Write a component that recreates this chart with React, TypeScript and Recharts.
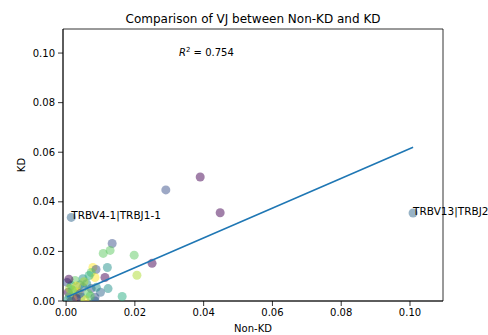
import {
  ScatterChart,
  Scatter,
  XAxis,
  YAxis,
  ReferenceArea,
  ReferenceDot,
} from 'recharts'

const FONT = '"DejaVu Sans", sans-serif'

// viridis-ish colours, drawn at half opacity like the original
const PURPLE = '#440154'
const INDIGO = '#3b528b'
const BLUE = '#31688e'
const TEAL = '#21918c'
const SEA = '#27ad81'
const GREEN = '#5ec962'
const LIME = '#addc30'
const YELLOW = '#fde725'

const NON_KD = [
  0.1009, 0.0015, 0.029, 0.039, 0.0448, 0.025, 0.0134, 0.0108, 0.0128, 0.0198,
  0.0206, 0.0163, 0.012, 0.0078, 0.0087, 0.0073, 0.0084, 0.0113, 0.0049, 0.0067,
  0.0026, 0.0003, 0.0015, 0.0049, 0.0073, 0.0122, 0.0006, 0.0035, 0.0064, 0.0084,
  0.0044, 0.002, 0.0084, 0.001, 0.0025, 0.004, 0.003, 0.0055, 0.0005, 0.001,
  0.003, 0.006, 0.004, 0.007, 0.0015, 0.01, 0.0088, 0.0052, 0.0018, 0.0008,
]
const KD = [
  0.0355, 0.0337, 0.0448, 0.05, 0.0356, 0.0152, 0.0232, 0.0192, 0.0204, 0.0185,
  0.0104, 0.0018, 0.0135, 0.0135, 0.0127, 0.0115, 0.0095, 0.0095, 0.009, 0.0103,
  0.0083, 0.0075, 0.0063, 0.0055, 0.005, 0.005, 0.0035, 0.0035, 0.003, 0.0015,
  0.0015, 0.001, 0.0, 0.002, 0.004, 0.0065, 0.001, 0.0005, 0.0005, 0.005,
  0.006, 0.007, 0.003, 0.002, 0.0, 0.0035, 0.0055, 0.0078, 0.0045, 0.0088,
]
const COLORS = [
  BLUE, BLUE, INDIGO, PURPLE, PURPLE, PURPLE, INDIGO, GREEN, GREEN, GREEN,
  LIME, SEA, TEAL, YELLOW, INDIGO, GREEN, YELLOW, PURPLE, TEAL, SEA,
  GREEN, INDIGO, SEA, BLUE, INDIGO, TEAL, PURPLE, YELLOW, GREEN, INDIGO,
  SEA, YELLOW, BLUE, GREEN, LIME, TEAL, PURPLE, YELLOW, TEAL, LIME,
  YELLOW, TEAL, INDIGO, GREEN, INDIGO, BLUE, TEAL, LIME, GREEN, PURPLE,
]

// linear fit drawn between the min and max Non-KD values
const FIT_X = [0.0003, 0.1009]
const FIT_Y = [0.0016, 0.062]

const X_TICKS = [0, 0.02, 0.04, 0.06, 0.08, 0.1]
const Y_TICKS = [0, 0.02, 0.04, 0.06, 0.08, 0.1]
const X_DOMAIN = [-0.0009, 0.1096]
const Y_DOMAIN = [0, 0.1097]

const ANNOTATIONS = [
  { x: 0.0015, y: 0.0337, text: 'TRBV4-1|TRBJ1-1' },
  { x: 0.1009, y: 0.0355, text: 'TRBV13|TRBJ2-1' },
]

const points = NON_KD.map((x, i) => ({ x, y: KD[i], color: COLORS[i] }))
const fit = FIT_X.map((x, i) => ({ x, y: FIT_Y[i] }))

function Dot(props: any) {
  const { cx, cy, payload } = props
  return <circle cx={cx} cy={cy} r={4.5} fill={payload.color} fillOpacity={0.5} />
}

export default function App() {
  const tick = { fontSize: 10, fill: '#000', fontFamily: FONT }
  return (
    <div style={{ width: 488, height: 335, background: '#fff', overflow: 'hidden' }}>
      <style>{'body { margin: 0; }'}</style>
      <ScatterChart
        width={488}
        height={335}
        margin={{ top: 29, right: 45, bottom: 0, left: 0 }}
        style={{ fontFamily: FONT }}
      >
        <XAxis
          type="number"
          dataKey="x"
          domain={X_DOMAIN}
          ticks={X_TICKS}
          allowDataOverflow
          height={34}
          tick={tick}
          tickSize={5}
          tickMargin={3}
          tickFormatter={(v: number) => v.toFixed(2)}
          stroke="#000"
          tickLine={{ stroke: '#000', strokeWidth: 0.8 }}
          axisLine={{ stroke: '#000', strokeWidth: 0.8 }}
        />
        <YAxis
          type="number"
          dataKey="y"
          domain={Y_DOMAIN}
          ticks={Y_TICKS}
          allowDataOverflow
          width={63}
          tick={tick}
          tickSize={5}
          tickMargin={3}
          tickFormatter={(v: number) => v.toFixed(2)}
          stroke="#000"
          tickLine={{ stroke: '#000', strokeWidth: 0.8 }}
          axisLine={{ stroke: '#000', strokeWidth: 0.8 }}
        />
        <Scatter data={points} shape={<Dot />} isAnimationActive={false} />
        <Scatter
          data={fit}
          line={{ stroke: '#1f77b4', strokeWidth: 1.6 }}
          shape={() => null}
          isAnimationActive={false}
        />
        <ReferenceArea
          x1={X_DOMAIN[0]}
          x2={X_DOMAIN[1]}
          y1={Y_DOMAIN[0]}
          y2={Y_DOMAIN[1]}
          fill="none"
          stroke="#000"
          strokeWidth={0.8}
          ifOverflow="visible"
        />
        {ANNOTATIONS.map((a) => (
          <ReferenceDot
            key={a.text}
            x={a.x}
            y={a.y}
            ifOverflow="visible"
            shape={(p: any) => (
              <text x={p.cx} y={p.cy + 2} fontSize={10.5} fontFamily={FONT} fill="#000">
                {a.text}
              </text>
            )}
          />
        ))}
        <text x={253} y={23} textAnchor="middle" fontSize={12} fontFamily={FONT} fill="#000">
          Comparison of VJ between Non-KD and KD
        </text>
        <text x={179} y={56} fontSize={10} fontFamily={FONT} fill="#000">
          <tspan fontStyle="italic">R</tspan>
          <tspan dy={-4} fontSize={7}>2</tspan>
          <tspan dy={4}> = 0.754</tspan>
        </text>
        <text x={253} y={332} textAnchor="middle" fontSize={10} fontFamily={FONT} fill="#000">
          Non-KD
        </text>
        <text
          x={25}
          y={165}
          textAnchor="middle"
          fontSize={10}
          fontFamily={FONT}
          fill="#000"
          transform="rotate(-90 25 165)"
        >
          KD
        </text>
      </ScatterChart>
    </div>
  )
}
